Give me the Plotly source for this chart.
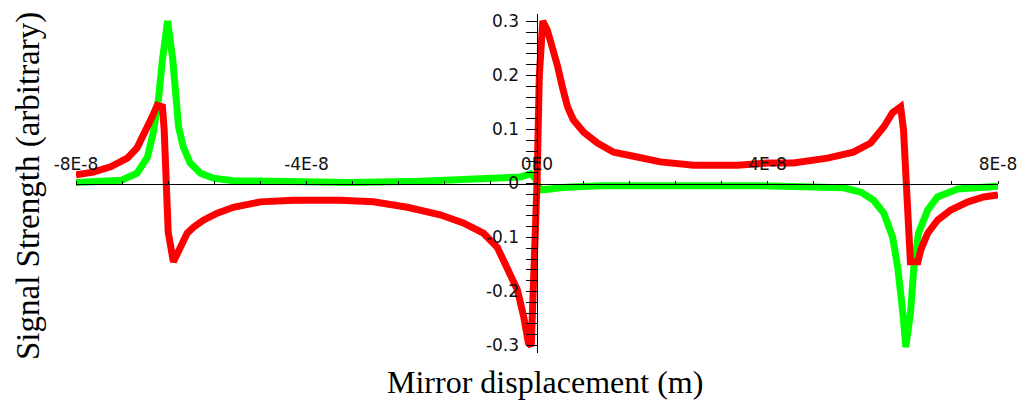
import plotly.graph_objects as go

# ---- data (x in units of 1e-8 m) ----
red_x = [-8.0, -7.70, -7.40, -7.11, -6.94, -6.80, -6.68, -6.59, -6.50, -6.47, -6.43, -6.40,
         -6.31, -6.19, -6.07, -5.96, -5.79, -5.55, -5.27, -4.80, -4.23, -3.41, -2.84, -2.25,
         -1.68, -1.28, -0.93, -0.69, -0.51, -0.34, -0.23, -0.15, -0.10, -0.04, 0.0, 0.04,
         0.10, 0.18, 0.27, 0.36, 0.44, 0.53, 0.63, 0.81, 1.05, 1.33, 1.74, 2.14, 2.72, 3.48,
         4.00, 4.45, 5.04, 5.49, 5.79, 6.02, 6.17, 6.31, 6.36, 6.40, 6.43, 6.48, 6.61, 6.66,
         6.78, 6.95, 7.18, 7.48, 7.75, 8.0]
red_y = [0.016, 0.021, 0.031, 0.047, 0.066, 0.094, 0.123, 0.145, 0.142, 0.10, 0.0, -0.09,
         -0.145, -0.118, -0.092, -0.081, -0.068, -0.055, -0.044, -0.034, -0.031, -0.031, -0.034, -0.044,
         -0.058, -0.073, -0.092, -0.118, -0.155, -0.197, -0.247, -0.295, -0.301, -0.15, 0.0, 0.20,
         0.301, 0.284, 0.253, 0.216, 0.179, 0.142, 0.118, 0.095, 0.075, 0.058, 0.049, 0.040, 0.034, 0.034,
         0.038, 0.038, 0.047, 0.058, 0.075, 0.105, 0.131, 0.142, 0.10, 0.0, -0.09, -0.145, -0.145, -0.123,
         -0.092, -0.068, -0.049, -0.034, -0.025, -0.021]

green_x = [-8.0, -7.21, -6.94, -6.76, -6.66, -6.57, -6.50, -6.41, -6.32, -6.27, -6.22, -6.14,
           -6.02, -5.84, -5.62, -5.27, -4.23, -3.24, -2.02, -1.33, -0.63, -0.29, -0.11, -0.03,
           0.0, 0.06, 0.23, 0.49, 1.10, 2.84, 3.88, 5.32, 5.62, 5.84, 6.02, 6.17, 6.26, 6.35,
           6.40, 6.48, 6.54, 6.62, 6.78, 6.95, 7.30, 8.0]
green_y = [0.002, 0.006, 0.019, 0.049, 0.094, 0.155, 0.229, 0.301, 0.229, 0.160, 0.105, 0.068,
           0.038, 0.019, 0.010, 0.005, 0.003, 0.002, 0.004, 0.006, 0.008, 0.012, 0.018, 0.010,
           0.0, -0.012, -0.010, -0.007, -0.004, -0.003, -0.004, -0.008, -0.016, -0.031, -0.055, -0.099, -0.155, -0.241,
           -0.303, -0.241, -0.155, -0.092, -0.049, -0.025, -0.010, -0.005]

x_tick_vals = [-8e-8, -4e-8, 0.0, 4e-8, 8e-8]
x_tick_text = ["-8E-8", "-4E-8", "0E0", "4E-8", "8E-8"]
y_tick_vals = [-0.3, -0.2, -0.1, 0.0, 0.1, 0.2, 0.3]
y_tick_text = ["-0.3", "-0.2", "-0.1", "0", "0.1", "0.2", "0.3"]

UNIT = 1e-8
rx = [v * UNIT for v in red_x]
gx = [v * UNIT for v in green_x]

W, H = 1026, 402
tick_font = dict(family="DejaVu Sans, Arial, sans-serif", size=17, color="#111111")
title_font = dict(family="Liberation Serif, Times New Roman, serif", size=32, color="black")

fig = go.Figure()
fig.add_trace(go.Scatter(x=gx, y=green_y, mode="lines",
                         line=dict(color="#00FF00", width=7), hoverinfo="skip"))
fig.add_trace(go.Scatter(x=rx, y=red_y, mode="lines",
                         line=dict(color="#FF0000", width=7), hoverinfo="skip"))

fig.update_layout(
    width=W, height=H, autosize=False,
    margin=dict(l=0, r=0, t=0, b=0, pad=0, autoexpand=False),
    paper_bgcolor="white", plot_bgcolor="white",
    showlegend=False,
    xaxis=dict(
        domain=[76 / W, 998 / W], range=[-8e-8, 8e-8], automargin=False,
        anchor="free", position=(H - 183.5) / H, side="top",
        showline=True, linecolor="black", linewidth=1,
        showgrid=False, zeroline=False,
        tickmode="array", tickvals=x_tick_vals, ticktext=x_tick_text,
        ticks="outside", ticklen=3, tickcolor="black", tickwidth=1,
        ticklabelstandoff=4, tickfont=tick_font,
        minor=dict(dtick=0.8e-8, tick0=0, ticks="outside", ticklen=3,
                   tickcolor="black", showgrid=False),
    ),
    yaxis=dict(
        domain=[(H - 353) / H, (H - 14) / H], range=[-0.3139, 0.3139], automargin=False,
        anchor="free", position=536.5 / W, side="left",
        showline=True, linecolor="black", linewidth=1,
        showgrid=False, zeroline=False,
        tickmode="array", tickvals=y_tick_vals, ticktext=y_tick_text,
        ticks="outside", ticklen=11, tickcolor="black", tickwidth=1,
        ticklabelstandoff=3, tickfont=tick_font,
        minor=dict(dtick=0.02, tick0=0, ticks="outside", ticklen=11,
                   tickcolor="black", showgrid=False),
    ),
    annotations=[
        dict(text="Mirror displacement (m)", xref="paper", yref="paper",
             x=545 / W, y=(H - 382) / H, xanchor="center", yanchor="middle",
             showarrow=False, font=title_font),
        dict(text="Signal Strength (arbitrary)", xref="paper", yref="paper",
             x=28 / W, y=(H - 186) / H, xanchor="center", yanchor="middle",
             textangle=-90, showarrow=False,
             font=dict(family="Liberation Serif, Times New Roman, serif", size=33, color="black")),
    ],
)

fig.write_html("out.html",
               config={"displayModeBar": False},
               post_script="document.body.style.margin='0px';document.body.style.overflow='hidden';")
